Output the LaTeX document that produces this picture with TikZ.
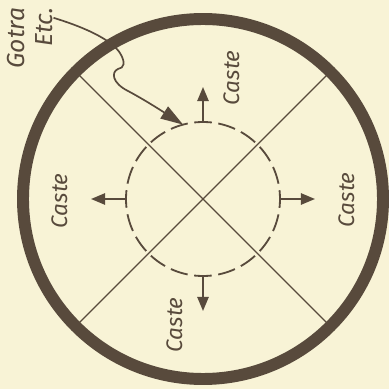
\documentclass[tikz,border=0pt]{standalone}
\usepackage{fontspec}
\setsansfont{Fira Sans}
\usetikzlibrary{arrows.meta}

\definecolor{paper}{RGB}{248,243,214}
\definecolor{ink}{RGB}{88,74,60}

\begin{document}
\begin{tikzpicture}[
  x=0.025cm, y=0.025cm,
  font=\sffamily\itshape,
  outerring/.style={draw=ink, line width=8.5pt},
  divider/.style={draw=ink, line width=1pt},
  kinring/.style={draw=ink, line width=1.3pt,
                  dash pattern=on 12.5pt off 4.7pt, dash phase=6.25pt},
  spread/.style={draw=ink, line width=1.3pt, -{Triangle[length=10pt, width=8pt]}},
  lead/.style={draw=ink, line width=1.2pt, -{Triangle[length=16pt, width=10pt]}},
  lbl/.style={text=ink, rotate=90, inner sep=1pt, font=\sffamily\itshape\fontsize{16}{19}\selectfont},
]

\fill[paper] (0,0) rectangle (389,389);
\useasboundingbox (0,0) rectangle (389,389);

%% ===== RINGS =====

\coordinate (c) at (203,190);
\draw[outerring] (c) circle (180);
\draw[kinring] (c) circle (77);

%% ===== DIVIDERS =====

\path (c) ++(45:176) coordinate (ne);
\path (c) ++(135:176) coordinate (nw);
\path (c) ++(225:176) coordinate (sw);
\path (c) ++(315:176) coordinate (se);
\draw[divider] (ne) -- (sw);
\draw[divider] (nw) -- (se);

%% ===== OUTWARD ARROWS =====

\foreach \a/\n in {0/e, 90/n, 180/w, 270/s} {
  \path (c) ++(\a:77) coordinate (\n0) ++(\a:35) coordinate (\n1);
  \draw[spread] (\n0) -- (\n1);
}

%% ===== LABELS =====

\node[lbl] (castetop)    at (232,311) {Caste};
\node[lbl] (casteright)  at (347,189) {Caste};
\node[lbl] (casteleft)   at (60,188)  {Caste};
\node[lbl] (castebottom) at (175,64)  {Caste};

\node[lbl, align=right, font=\sffamily\itshape\fontsize{17.5}{20}\selectfont]
  (gotra) at (30,351) {Gotra\\Etc.};

%% ===== LEADER =====

\path (c) ++(105:77) coordinate (hit);
\draw[lead] ([shift={(-1,-12)}]gotra.south east)
  .. controls (90,360) and (112,348) .. (120,336)
  .. controls (126,326) and (124,321) .. (118,320)
  .. controls (111,317) and (112,306) .. (128,298)
  .. controls (145,289) and (165,276) .. (hit);

\end{tikzpicture}
\end{document}
